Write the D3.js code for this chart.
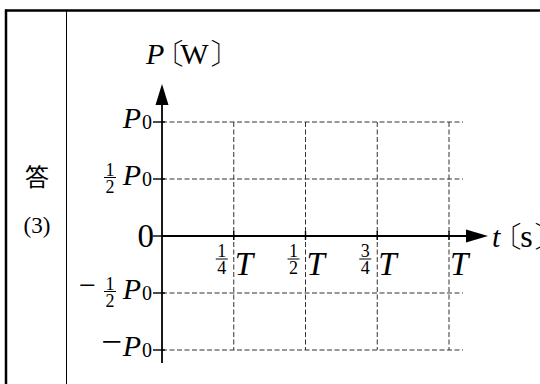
<!DOCTYPE html>
<html lang="ja">
<head>
<meta charset="UTF-8">
<title>P-t graph</title>
<script src="https://d3js.org/d3.v7.min.js"></script>
<style>
  body { margin: 0; background: #fff; }
</style>
</head>
<body>
<script>
  // time ticks (fractions of T)
  const tValues = [0.25, 0.5, 0.75, 1];
  const tFracs = [["1", "4"], ["1", "2"], ["3", "4"], null];

  // power ticks (fractions of P0)
  const pValues = [1, 0.5, 0, -0.5, -1];
  const pSigns = ["", "", "", "−", "−"];
  const pFracs = [null, ["1", "2"], null, ["1", "2"], null];

  const W = 540, H = 384;
  const SERIF = "Liberation Serif";
  const CJK = "Noto Sans CJK JP";

  const svg = d3.select("body").append("svg")
    .attr("width", W)
    .attr("height", H);

  function label(parent, x, y, str, size, opts) {
    opts = opts || {};
    return parent.append("text")
      .attr("x", x).attr("y", y)
      .attr("font-family", opts.family || SERIF)
      .attr("font-size", size)
      .attr("font-style", opts.italic ? "italic" : "normal")
      .attr("text-anchor", opts.anchor || "start")
      .attr("fill", "#000")
      .text(str);
  }

  // ************** frame of the answer box *****************
  svg.append("line").attr("x1", 5).attr("x2", W).attr("y1", 10.5).attr("y2", 10.5)
    .attr("stroke", "#000").attr("stroke-width", 2.5);
  svg.append("line").attr("x1", 6).attr("x2", 6).attr("y1", 9.5).attr("y2", H)
    .attr("stroke", "#000").attr("stroke-width", 2.5);
  svg.append("line").attr("x1", 66.5).attr("x2", 66.5).attr("y1", 10).attr("y2", H)
    .attr("stroke", "#000").attr("stroke-width", 1);

  label(svg, 37, 186, "答", 24, {family: CJK, anchor: "middle"});
  label(svg, 37, 233, "(3)", 23, {anchor: "middle"});

  // ************** scales *****************
  const x = d3.scaleLinear().domain([0, 1]).range([162, 449]);
  const y = d3.scaleLinear().domain([-1, 1]).range([350, 122]);

  const g = svg.append("g");

  // dashed grid
  g.selectAll(".hgrid")
    .data(pValues.filter(v => v !== 0))
    .enter().append("line")
    .attr("x1", x(0)).attr("x2", x(1) + 14)
    .attr("y1", d => y(d)).attr("y2", d => y(d))
    .attr("stroke", "#333").attr("stroke-width", 1).attr("stroke-dasharray", "5,2.5");

  g.selectAll(".vgrid")
    .data(tValues)
    .enter().append("line")
    .attr("x1", d => x(d)).attr("x2", d => x(d))
    .attr("y1", y(1)).attr("y2", y(-1))
    .attr("stroke", "#333").attr("stroke-width", 1).attr("stroke-dasharray", "5,2.5");

  // axes with arrow heads
  g.append("line")
    .attr("x1", x(0)).attr("x2", x(1) + 20)
    .attr("y1", y(0)).attr("y2", y(0))
    .attr("stroke", "#000").attr("stroke-width", 1.8);
  g.append("path")
    .attr("d", `M${x(1) + 39},${y(0)} L${x(1) + 17},${y(0) - 6.5} L${x(1) + 17},${y(0) + 6.5} Z`)
    .attr("fill", "#000");

  g.append("line")
    .attr("x1", x(0)).attr("x2", x(0))
    .attr("y1", y(-1) + 13).attr("y2", y(1) - 20)
    .attr("stroke", "#000").attr("stroke-width", 1.8);
  g.append("path")
    .attr("d", `M${x(0)},${y(1) - 38} L${x(0) - 6.5},${y(1) - 17} L${x(0) + 6.5},${y(1) - 17} Z`)
    .attr("fill", "#000");

  // tick marks
  g.selectAll(".ytick")
    .data(pValues)
    .enter().append("line")
    .attr("x1", x(0) - 9).attr("x2", x(0) + 3)
    .attr("y1", d => y(d)).attr("y2", d => y(d))
    .attr("stroke", "#000").attr("stroke-width", 1.4);

  g.selectAll(".xtick")
    .data(tValues)
    .enter().append("line")
    .attr("x1", d => x(d)).attr("x2", d => x(d))
    .attr("y1", y(0) - 5).attr("y2", y(0) + 4)
    .attr("stroke", "#000").attr("stroke-width", 1.4);

  // small stacked fraction
  function fraction(parent, cx, ybar, num, den) {
    label(parent, cx, ybar - 2, num, 18, {anchor: "middle"});
    parent.append("line")
      .attr("x1", cx - 6).attr("x2", cx + 6)
      .attr("y1", ybar).attr("y2", ybar)
      .attr("stroke", "#000").attr("stroke-width", 1);
    label(parent, cx, ybar + 15, den, 18, {anchor: "middle"});
  }

  // y labels
  pValues.forEach((v, i) => {
    const yy = y(v);
    if (v === 0) {
      label(g, 154, yy + 11, "0", 33, {anchor: "end"});
      return;
    }
    label(g, 152, yy + 7, "0", 20, {anchor: "end"});
    label(g, 141, yy + 6, "P", 30, {anchor: "end", italic: true});
    if (pFracs[i]) fraction(g, 110, yy - 1.5, pFracs[i][0], pFracs[i][1]);
    if (pSigns[i]) {
      if (pFracs[i]) label(g, 96, yy + 1.5, pSigns[i], 30, {anchor: "end"});
      else label(g, 122, yy + 4, pSigns[i], 37, {anchor: "end"});
    }
  });

  // x labels
  tValues.forEach((v, i) => {
    const xx = x(v);
    if (tFracs[i]) fraction(g, xx - 12, y(0) + 23, tFracs[i][0], tFracs[i][1]);
    label(g, xx + 1, y(0) + 39, "T", 33, {italic: true});
  });

  // axis titles
  const ptitle = label(svg, 146, 64, "", 30);
  ptitle.append("tspan").attr("font-style", "italic").text("P");
  ptitle.append("tspan").attr("dx", -8).text("〔");
  ptitle.append("tspan").attr("dx", -6).text("W");
  ptitle.append("tspan").attr("dx", -1).text("〕");

  const ttitle = label(svg, 492, 247, "", 30);
  ttitle.append("tspan").attr("font-style", "italic").text("t");
  ttitle.append("tspan").attr("dx", -6).text("〔");
  ttitle.append("tspan").attr("dx", -4).attr("font-size", 32).text("s");
  ttitle.append("tspan").attr("dx", -1).text("〕");
</script>
</body>
</html>
